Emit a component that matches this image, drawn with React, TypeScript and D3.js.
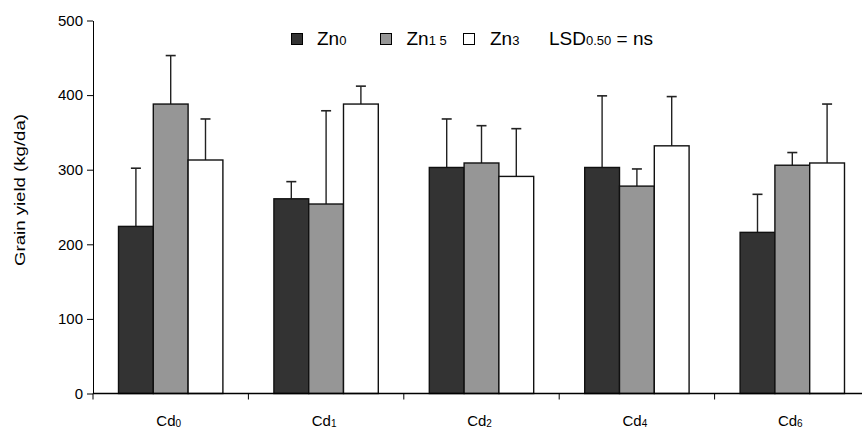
import React, { useEffect, useRef } from 'react'
import * as d3 from 'd3'

// Cd levels (shown as subscripts)
const categories = ['0', '1', '2', '4', '6']
const seriesNames = ['Zn0', 'Zn15', 'Zn3']

// grain yield means (kg/da)
const zn0 = [224, 261, 303, 303, 216]
const zn15 = [388, 254, 309, 278, 306]
const zn3 = [313, 388, 291, 332, 309]

// upper error amounts
const zn0Err = [78, 23, 65, 96, 51]
const zn15Err = [65, 125, 50, 23, 17]
const zn3Err = [55, 24, 64, 66, 79]

const yTicks = [0, 100, 200, 300, 400, 500]

const width = 862
const height = 427
const left = 93
const top = 20.5
const bottom = 393.5
const fills = ['#333333', '#969696', '#ffffff']
const font = '"Liberation Sans", Arial, sans-serif'

export default function App() {
  const ref = useRef(null)

  const x = d3.scaleBand().domain(categories).range([left, left + 155.4 * 5]).padding(0)
  const x1 = d3.scaleBand().domain(seriesNames).range([0, x.bandwidth()]).paddingInner(0).paddingOuter(0.733)
  const y = d3.scaleLinear().domain([0, 500]).range([bottom, top])

  const values = [zn0, zn15, zn3]
  const errs = [zn0Err, zn15Err, zn3Err]

  useEffect(() => {
    const g = d3.select(ref.current)
    g.selectAll('*').remove()
    const ax = g.append('g')
      .attr('transform', `translate(${left},0)`)
      .call(d3.axisLeft(y).tickValues(yTicks).tickSize(6).tickSizeOuter(0).tickPadding(4))
    ax.select('.domain').attr('stroke', '#000')
    ax.selectAll('line').attr('stroke', '#000')
    ax.selectAll('text').attr('font-family', font).attr('font-size', 15).attr('fill', '#000')
  }, [])

  return (
    <svg width={width} height={height} style={{ position: 'absolute', left: 0, top: 0 }}>
      <rect width={width} height={height} fill="#fff" />

      {/* bars + error bars */}
      {values.map((vals, si) =>
        vals.map((v, ci) => {
          const bx = x(categories[ci]) + x1(seriesNames[si])
          const bw = x1.bandwidth()
          const cx = bx + bw / 2
          const et = y(v + errs[si][ci])
          return (
            <g key={si + '-' + ci}>
              <line x1={cx} x2={cx} y1={y(v)} y2={et} stroke="#222" strokeWidth={1.4} />
              <line x1={cx - 5} x2={cx + 5} y1={et} y2={et} stroke="#222" strokeWidth={1.6} />
              <rect x={bx} y={y(v)} width={bw} height={y(0) - y(v)} fill={fills[si]} stroke="#111" strokeWidth={1.4} />
            </g>
          )
        })
      )}

      <g ref={ref} />

      {/* x axis */}
      <line x1={left} x2={width} y1={bottom} y2={bottom} stroke="#000" strokeWidth={1.3} />
      {categories.map(c => (
        <line key={c} x1={x(c)} x2={x(c)} y1={bottom} y2={bottom + 6} stroke="#000" />
      ))}
      {categories.map(c => (
        <text key={'l' + c} x={x(c) + x.bandwidth() / 2 - 2} y={426} textAnchor="middle"
          fontFamily={font} fontSize={15}>
          Cd<tspan fontSize={10} dy={1}>{c}</tspan>
        </text>
      ))}

      {/* y label */}
      <text transform="translate(25,190) rotate(-90)" textAnchor="middle" fontFamily={font} fontSize={15}
        textLength={152} lengthAdjust="spacingAndGlyphs">
        Grain yield (kg/da)
      </text>

      {/* legend */}
      <g fontFamily={font} fontSize={19}>
        <rect x={291.5} y={33.5} width={11} height={11} fill={fills[0]} stroke="#000" />
        <text x={317} y={45}>Zn<tspan fontSize={13}>0</tspan></text>
        <rect x={380.5} y={33.5} width={11} height={11} fill={fills[1]} stroke="#000" />
        <text x={406.5} y={45}>Zn<tspan fontSize={13}>1 5</tspan></text>
        <rect x={463.5} y={33.5} width={11} height={11} fill={fills[2]} stroke="#000" />
        <text x={490} y={45}>Zn<tspan fontSize={13}>3</tspan></text>
        <text x={549} y={45}>LSD<tspan fontSize={13}>0.50</tspan> = ns</text>
      </g>
    </svg>
  )
}
